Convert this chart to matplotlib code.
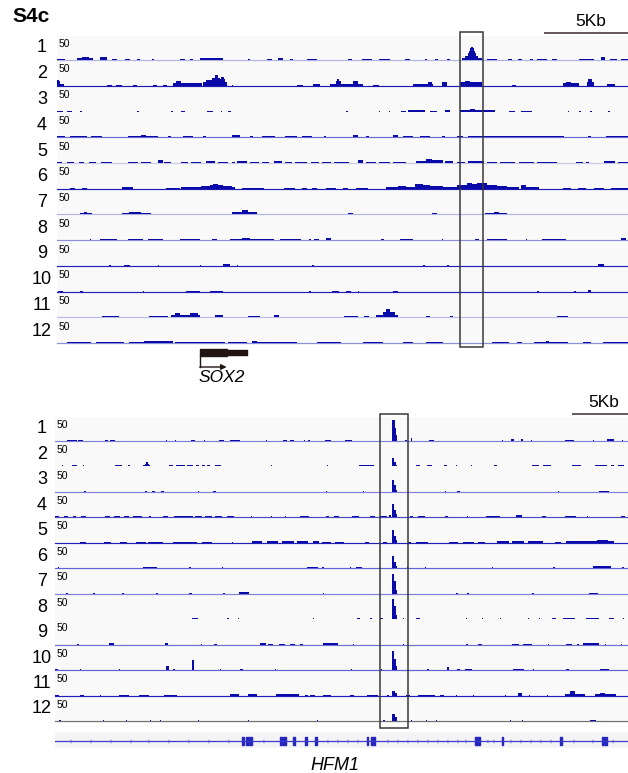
import matplotlib.pyplot as plt
from matplotlib.patches import Rectangle

plt.rcParams['font.family'] = ['Liberation Sans', 'DejaVu Sans']

# ---- data -------------------------------------------------------------
samples = ['1', '2', '3', '4', '5', '6', '7', '8', '9', '10', '11', '12']
track_max = 50

# SOX2 locus, coverage as (start kb, end kb, signal)
sox2_span = 34.0
sox2_cov = [
    [(0.0, 0.45, 2), (1.2, 2.15, 4), (1.5, 1.9, 6), (2.55, 2.95, 7), (3.25, 3.55, 2), (4.05, 4.35, 2),
     (4.75, 4.95, 2), (5.65, 5.75, 2), (7.3, 7.6, 2), (7.9, 8.1, 2), (8.5, 9.9, 4), (9.0, 9.5, 5),
     (11.4, 11.5, 2), (12.5, 12.8, 2), (13.15, 13.45, 4), (13.85, 14.05, 2), (14.9, 15.5, 3),
     (17.3, 17.55, 2), (18.15, 18.75, 2), (19.2, 19.8, 3), (20.7, 21.0, 2), (21.9, 22.05, 2),
     (22.5, 22.7, 2), (23.2, 23.4, 2), (24.1, 25.3, 5), (24.3, 25.05, 9), (24.45, 24.95, 14),
     (24.55, 24.9, 19), (24.62, 24.82, 24), (24.68, 24.78, 28), (25.6, 26.2, 2), (26.85, 27.1, 2),
     (27.45, 27.7, 2), (28.15, 28.35, 2), (28.6, 29.2, 2), (29.5, 29.8, 2), (31.1, 32.0, 3),
     (32.4, 32.65, 6), (32.9, 33.35, 2), (33.6, 34.0, 2)],
    [(0.0, 0.1, 13), (0.0, 0.2, 9), (0.0, 0.4, 4), (3.0, 3.25, 2), (3.5, 3.85, 2), (4.5, 4.75, 2),
     (5.7, 5.95, 2), (6.3, 6.55, 2), (6.9, 7.6, 6), (7.1, 7.4, 9), (7.6, 8.65, 5), (8.7, 10.1, 8),
     (8.9, 9.3, 12), (9.2, 9.7, 16), (9.4, 9.6, 22), (9.6, 10.0, 14), (9.75, 9.95, 19),
     (10.4, 10.5, 2), (14.3, 14.65, 2), (15.25, 15.65, 3), (16.25, 18.2, 4), (16.6, 16.9, 10),
     (16.7, 16.8, 14), (17.6, 17.9, 10), (18.8, 19.2, 2), (21.2, 22.4, 4), (22.1, 22.35, 7),
     (22.95, 23.25, 7), (24.0, 25.3, 7), (24.3, 24.6, 10), (27.1, 27.35, 2), (30.1, 31.1, 5),
     (30.3, 30.6, 7), (31.55, 31.95, 8), (31.6, 31.85, 14), (32.75, 33.2, 3)],
    [(0.0, 0.35, 2), (0.6, 0.9, 2), (1.37, 1.5, 2), (4.76, 4.9, 2), (6.8, 6.9, 2), (7.4, 7.6, 2),
     (8.95, 9.3, 2), (9.75, 9.85, 2), (10.2, 10.35, 2), (17.2, 17.3, 2), (19.15, 19.25, 2),
     (19.75, 19.85, 2), (20.5, 20.8, 2), (20.9, 21.8, 3), (21.5, 21.9, 4), (22.2, 22.6, 2),
     (23.1, 23.4, 4), (24.0, 26.1, 3), (24.6, 24.9, 6), (26.9, 27.3, 2), (27.6, 28.3, 2),
     (30.4, 30.5, 2), (31.1, 31.2, 2), (31.75, 31.85, 2), (32.8, 32.9, 2)],
    [(0.0, 0.5, 2), (0.8, 1.8, 2), (2.0, 2.7, 2), (4.2, 6.0, 3), (5.0, 5.3, 4), (6.6, 6.8, 2),
     (7.5, 8.1, 2), (8.7, 8.9, 2), (10.4, 10.9, 4), (11.5, 11.7, 2), (12.2, 13.0, 2), (13.6, 14.3, 2),
     (14.6, 15.2, 2), (15.9, 16.0, 2), (17.6, 17.9, 4), (18.4, 18.6, 2), (20.0, 20.3, 4),
     (20.6, 21.2, 2), (21.6, 22.2, 2), (22.9, 23.1, 2), (23.8, 24.2, 2), (24.5, 25.8, 3),
     (25.8, 30.2, 3), (31.6, 31.8, 2), (32.7, 34.0, 2)],
    [(0.0, 0.3, 2), (0.6, 1.0, 2), (1.3, 1.6, 2), (1.9, 2.3, 2), (2.6, 3.3, 2), (4.2, 4.8, 3),
     (5.0, 5.6, 2), (6.0, 6.3, 6), (6.4, 6.8, 2), (7.4, 7.8, 2), (8.0, 8.6, 3), (8.9, 9.4, 5),
     (9.6, 10.2, 3), (10.4, 10.6, 2), (10.7, 11.3, 5), (11.5, 12.0, 3), (12.2, 12.6, 2),
     (12.9, 13.4, 5), (13.6, 14.0, 3), (14.2, 14.9, 2), (15.1, 15.6, 3), (15.8, 16.3, 2),
     (16.5, 17.4, 3), (17.9, 18.2, 6), (18.4, 19.0, 3), (19.2, 19.8, 2), (20.0, 20.8, 3),
     (21.4, 22.0, 5), (22.0, 22.3, 9), (22.3, 23.0, 6), (23.1, 23.6, 4), (23.8, 24.3, 3),
     (24.5, 25.4, 4), (25.6, 26.2, 2), (26.4, 27.3, 3), (27.5, 28.4, 2), (28.6, 29.8, 3),
     (30.9, 31.3, 2), (31.5, 31.7, 2), (32.6, 33.2, 4), (33.4, 34.0, 3)],
    [(0.8, 1.1, 2), (1.5, 1.8, 2), (3.9, 4.5, 4), (6.5, 7.3, 2), (7.4, 8.2, 3), (8.2, 8.6, 4),
     (8.6, 9.1, 5), (9.1, 9.3, 7), (9.3, 9.6, 10), (9.6, 9.9, 7), (9.9, 10.4, 5), (10.4, 10.6, 3),
     (11.0, 12.3, 2), (13.5, 14.2, 2), (14.6, 14.9, 2), (15.2, 15.5, 2), (16.0, 16.6, 2),
     (17.0, 17.3, 2), (17.8, 18.5, 2), (19.6, 20.3, 3), (20.3, 20.8, 6), (20.8, 21.3, 4),
     (21.3, 21.8, 9), (21.8, 22.2, 8), (22.2, 23.0, 5), (23.0, 23.8, 4), (23.8, 24.4, 7),
     (24.4, 24.7, 13), (24.7, 25.0, 10), (25.0, 25.3, 13), (25.3, 25.6, 11), (25.6, 26.2, 8),
     (26.2, 26.8, 5), (26.8, 27.5, 3), (27.6, 27.9, 7), (27.9, 28.7, 3), (30.1, 30.6, 2),
     (31.0, 31.5, 2), (32.0, 32.6, 2), (33.0, 34.0, 2)],
    [(0.0, 0.9, 2), (1.37, 2.1, 4), (1.6, 1.8, 5), (2.6, 3.3, 2), (3.9, 5.6, 4), (4.3, 5.0, 5),
     (6.1, 6.6, 2), (9.5, 9.6, 2), (10.4, 11.9, 6), (11.0, 11.4, 9), (12.3, 12.6, 2), (13.0, 13.5, 2),
     (14.0, 14.3, 2), (14.8, 15.9, 2), (17.3, 17.6, 4), (18.5, 19.5, 2), (20.4, 21.0, 2),
     (22.3, 22.6, 4), (24.6, 25.3, 2), (25.5, 26.8, 3), (26.0, 26.3, 5), (28.9, 29.6, 2),
     (30.2, 30.9, 2), (31.4, 32.0, 2), (32.4, 32.7, 2)],
    [(1.95, 2.05, 2), (2.55, 3.6, 2), (4.2, 5.1, 2), (5.4, 6.3, 2), (7.3, 8.5, 2), (9.2, 9.5, 2),
     (10.3, 12.9, 3), (11.0, 11.5, 4), (13.3, 14.5, 2), (15.0, 15.1, 2), (15.3, 15.6, 2),
     (16.0, 16.3, 4), (19.3, 19.5, 2), (20.4, 21.2, 2), (22.9, 23.0, 2), (24.9, 25.1, 2),
     (25.6, 26.8, 3), (27.9, 28.0, 2), (28.9, 30.3, 2), (33.6, 33.9, 4)],
    [(3.1, 3.2, 2), (4.0, 4.35, 2), (6.0, 6.1, 2), (8.5, 8.6, 2), (9.9, 10.3, 4), (10.7, 10.8, 2),
     (15.2, 15.3, 2), (21.8, 21.9, 2), (23.25, 23.35, 2), (32.2, 32.6, 4)],
    [(0.05, 0.35, 2), (1.35, 1.55, 2), (5.1, 5.2, 2), (7.7, 8.5, 2), (9.1, 9.9, 2), (15.0, 15.1, 2),
     (16.4, 16.8, 2), (17.2, 17.5, 2), (17.9, 18.0, 2), (20.0, 20.3, 2), (28.6, 28.7, 2),
     (30.8, 30.9, 2), (31.6, 31.8, 4)],
    [(0.5, 0.65, 2), (2.7, 3.7, 3), (5.5, 6.6, 4), (6.8, 8.5, 5), (7.0, 7.3, 9), (7.9, 8.4, 9),
     (9.4, 9.9, 5), (10.8, 11.0, 2), (11.4, 12.1, 4), (12.9, 13.2, 5), (14.0, 14.4, 2),
     (14.5, 14.6, 2), (15.7, 15.9, 2), (16.4, 16.5, 2), (17.1, 17.9, 4), (18.3, 18.6, 4),
     (19.0, 20.3, 6), (19.4, 20.1, 11), (19.6, 19.8, 17), (20.7, 20.9, 2), (22.0, 22.2, 4),
     (22.6, 23.2, 2), (23.4, 23.6, 4), (25.8, 26.0, 2), (28.8, 29.0, 2), (29.8, 30.4, 4),
     (32.4, 32.7, 2), (33.1, 33.5, 2)],
    [(0.6, 2.0, 2), (2.3, 4.0, 2), (4.3, 5.2, 3), (5.2, 6.9, 4), (5.5, 6.2, 5), (7.0, 10.0, 2),
     (10.2, 11.3, 2), (11.6, 11.9, 5), (11.9, 14.3, 2), (15.5, 16.9, 2), (18.2, 19.4, 2),
     (20.6, 21.2, 2), (22.0, 23.0, 2), (25.9, 26.9, 2), (27.4, 27.7, 2), (28.4, 30.4, 3),
     (29.1, 29.3, 5), (31.3, 31.8, 2), (32.5, 34.0, 2)],
]

# HFM1 locus, coverage as (start kb, end kb, signal)
hfm1_span = 51.16
hfm1_cov = [
    [(1.07, 1.96, 3), (2.05, 2.5, 2), (4.5, 4.7, 2), (4.9, 5.4, 2), (9.9, 10.0, 2), (10.7, 10.8, 2),
     (12.1, 12.5, 3), (13.3, 13.4, 2), (14.6, 15.1, 2), (15.6, 16.5, 2), (18.8, 18.9, 2),
     (20.4, 20.7, 2), (21.0, 21.3, 2), (22.2, 22.3, 2), (22.6, 22.8, 2), (24.1, 24.6, 2),
     (25.9, 26.5, 2), (30.09, 30.36, 44), (30.36, 30.45, 28), (30.45, 30.54, 12), (31.25, 31.45, 2),
     (31.75, 31.9, 6), (33.4, 33.8, 3), (39.9, 40.0, 2), (40.75, 40.95, 4), (41.6, 41.8, 4),
     (42.5, 42.6, 2), (45.5, 46.3, 2), (48.0, 48.1, 2), (49.3, 49.9, 4), (50.6, 50.7, 2)],
    [(0.6, 0.7, 2), (1.5, 2.0, 4), (2.5, 2.6, 2), (5.4, 6.0, 4), (6.5, 6.7, 2), (7.9, 8.5, 3),
     (8.0, 8.4, 6), (8.1, 8.3, 10), (10.2, 10.5, 2), (10.8, 11.6, 3), (11.8, 12.3, 2),
     (12.6, 12.9, 3), (13.1, 13.4, 2), (13.6, 13.8, 2), (14.3, 14.8, 3), (19.3, 19.4, 2),
     (24.3, 24.4, 2), (27.1, 28.5, 2), (30.09, 30.3, 18), (30.3, 30.45, 10), (30.45, 30.54, 4),
     (32.2, 32.6, 2), (33.2, 33.7, 3), (34.7, 35.0, 2), (35.8, 35.9, 2), (37.1, 37.2, 2),
     (39.2, 39.5, 2), (42.6, 43.2, 2), (43.6, 44.3, 2), (46.2, 47.0, 2), (48.2, 49.3, 3),
     (49.6, 49.9, 4), (50.3, 50.8, 4)],
    [(2.6, 2.8, 2), (8.0, 8.2, 2), (8.7, 8.9, 2), (9.5, 9.7, 2), (12.8, 12.9, 2), (14.1, 14.4, 2),
     (24.2, 24.3, 2), (27.5, 27.6, 2), (30.09, 30.3, 25), (30.3, 30.45, 14), (30.45, 30.54, 5),
     (34.8, 34.9, 2), (35.9, 36.2, 2), (44.9, 45.0, 2), (48.6, 49.5, 2)],
    [(0.0, 0.4, 2), (0.8, 1.2, 2), (1.6, 1.9, 2), (2.3, 2.8, 2), (4.5, 4.9, 2), (5.3, 5.8, 2),
     (6.2, 6.6, 2), (7.0, 7.8, 2), (8.4, 8.6, 2), (9.6, 10.1, 3), (10.6, 12.3, 2), (12.5, 13.1, 2),
     (13.4, 14.0, 3), (14.3, 14.9, 2), (15.4, 16.0, 2), (17.5, 17.6, 2), (19.3, 19.4, 2),
     (20.5, 20.6, 2), (21.9, 22.7, 2), (24.2, 24.5, 2), (24.9, 25.4, 2), (26.5, 27.1, 2),
     (28.1, 28.6, 2), (29.0, 29.6, 2), (29.8, 30.0, 4), (30.09, 30.3, 28), (30.3, 30.45, 16),
     (30.45, 30.54, 6), (31.7, 32.0, 3), (32.4, 33.0, 2), (34.8, 35.1, 2), (36.8, 36.9, 2),
     (38.5, 39.7, 3), (41.2, 41.7, 4), (43.5, 43.8, 2), (45.5, 46.5, 2), (47.5, 47.6, 2),
     (50.5, 50.9, 3)],
    [(2.2, 2.8, 2), (4.4, 5.0, 2), (5.8, 6.4, 2), (7.2, 8.1, 2), (8.3, 9.6, 2), (10.5, 12.7, 2),
     (13.1, 14.0, 2), (15.8, 15.9, 2), (17.6, 18.5, 3), (18.9, 19.9, 3), (20.3, 21.3, 3),
     (21.6, 22.6, 3), (23.0, 23.6, 3), (23.8, 24.6, 2), (25.0, 25.8, 2), (27.7, 28.0, 2),
     (29.3, 29.6, 2), (30.09, 30.3, 27), (30.3, 30.45, 15), (30.45, 30.54, 6), (31.5, 31.8, 2),
     (32.2, 33.3, 2), (35.2, 36.0, 2), (36.4, 37.4, 2), (37.8, 38.4, 2), (39.5, 40.5, 3),
     (40.8, 41.9, 3), (42.2, 43.6, 3), (44.6, 45.2, 2), (45.6, 49.9, 3), (48.4, 49.4, 6)],
    [(0.27, 0.4, 2), (7.9, 9.1, 2), (12.0, 12.1, 2), (14.9, 15.0, 2), (22.5, 23.5, 2), (23.8, 24.0, 2),
     (26.3, 26.4, 2), (26.9, 27.4, 2), (30.09, 30.3, 25), (30.3, 30.45, 14), (30.45, 30.54, 5),
     (31.4, 31.5, 2), (33.0, 33.1, 2), (39.0, 39.1, 2), (44.5, 44.6, 2), (48.0, 49.6, 4),
     (50.6, 50.8, 2)],
    [(1.0, 1.2, 2), (3.4, 3.6, 2), (6.0, 6.2, 2), (9.0, 9.2, 2), (12.0, 12.2, 2), (15.0, 15.2, 2),
     (16.4, 17.3, 3), (23.9, 24.0, 2), (30.09, 30.3, 42), (30.3, 30.45, 26), (30.45, 30.54, 8),
     (35.8, 36.0, 2), (36.8, 37.0, 2), (42.6, 42.8, 2), (47.7, 48.5, 2)],
    [(12.2, 12.8, 2), (15.4, 15.5, 2), (16.3, 16.4, 2), (23.0, 23.1, 2), (27.0, 27.2, 2),
     (28.1, 28.3, 2), (29.0, 29.3, 2), (30.09, 30.3, 42), (30.3, 30.45, 28), (30.45, 30.54, 8),
     (31.1, 31.2, 2), (32.2, 32.6, 2), (36.7, 36.8, 2), (38.1, 38.2, 2), (39.7, 39.8, 2),
     (42.2, 42.3, 2), (43.2, 43.3, 2), (44.4, 44.7, 2), (45.4, 46.4, 2), (47.4, 48.6, 2),
     (49.5, 49.9, 2), (50.7, 50.8, 2)],
    [(2.0, 2.1, 2), (4.8, 5.3, 3), (9.8, 10.1, 3), (13.0, 13.1, 2), (14.2, 14.5, 2), (18.3, 18.8, 3),
     (19.0, 19.5, 2), (20.0, 20.5, 2), (21.0, 21.4, 2), (21.9, 22.1, 2), (23.9, 25.3, 3),
     (26.6, 26.7, 2), (31.1, 31.2, 2), (36.7, 36.9, 2), (37.8, 38.1, 2), (40.8, 41.4, 2),
     (41.8, 42.6, 2), (44.0, 44.1, 2), (45.6, 46.2, 2), (46.6, 46.8, 2), (47.1, 48.6, 4),
     (49.1, 49.2, 2), (50.5, 50.6, 2)],
    [(0.0, 0.3, 2), (2.2, 2.3, 2), (5.7, 5.8, 2), (9.9, 10.2, 9), (10.5, 10.7, 2), (12.2, 12.4, 20),
     (14.7, 14.8, 2), (16.5, 16.8, 2), (19.6, 19.7, 2), (26.4, 26.5, 2), (29.1, 29.2, 2),
     (30.09, 30.3, 40), (30.3, 30.45, 24), (30.45, 30.54, 8), (33.2, 33.4, 2), (35.0, 35.2, 6),
     (35.9, 36.2, 2), (36.6, 37.2, 2), (40.9, 41.9, 3), (42.7, 42.8, 2), (45.6, 45.9, 2),
     (48.7, 49.5, 2)],
    [(0.0, 0.4, 2), (2.2, 2.6, 2), (4.0, 4.1, 2), (5.7, 6.6, 2), (7.5, 8.4, 2), (9.7, 10.9, 2),
     (15.6, 16.4, 3), (17.2, 18.0, 3), (19.7, 21.8, 3), (22.3, 22.6, 2), (22.8, 23.2, 2),
     (23.9, 24.6, 2), (26.3, 26.7, 2), (27.9, 28.8, 2), (29.6, 29.8, 2), (30.1, 30.4, 10),
     (30.4, 30.5, 5), (31.3, 31.7, 2), (32.4, 33.9, 2), (34.4, 34.7, 2), (35.8, 35.9, 2),
     (37.3, 37.4, 2), (40.2, 40.3, 2), (41.3, 41.7, 6), (42.3, 42.4, 2), (43.9, 44.0, 2),
     (45.5, 47.3, 4), (46.0, 46.4, 10), (48.2, 50.1, 4), (48.7, 49.1, 6)],
    [(0.4, 0.5, 2), (4.3, 4.4, 2), (6.3, 6.4, 2), (8.5, 8.6, 2), (9.4, 9.5, 2), (12.8, 12.9, 2),
     (17.2, 17.3, 2), (23.4, 23.5, 2), (29.3, 29.5, 2), (30.1, 30.35, 14), (30.35, 30.5, 8),
     (31.8, 31.9, 2), (33.1, 33.2, 2), (34.0, 34.1, 2), (40.6, 40.7, 2), (41.7, 41.8, 2),
     (47.8, 48.3, 3)],
]

# highlighted regions (kb)
sox2_box = (24.0, 25.36)
hfm1_box = (29.02, 31.54)
scale_kb = 5

# gene models (kb)
sox2_cds = (8.5, 10.1)
sox2_utr = (10.1, 11.3)
hfm1_exons = [(16.67, 16.9), (17.05, 17.26), (17.32, 17.62), (20.09, 20.24), (20.39, 20.63),
              (21.28, 21.43), (22.32, 22.47), (23.21, 23.37), (27.83, 27.98), (28.19, 28.57),
              (37.5, 37.95), (39.88, 40.03), (45.09, 45.24), (48.81, 49.02), (49.11, 49.26)]
hfm1_strand_marks = [1.34, 3.13, 4.91, 6.7, 8.3, 10.09, 11.88, 13.66, 15.45, 18.57, 24.26, 25.15,
                     26.04, 26.94, 29.61, 30.51, 31.4, 32.29, 33.18, 34.08, 34.97, 35.86, 36.61,
                     38.54, 39.14, 40.63, 41.52, 42.41, 43.3, 44.2, 46.28, 47.92, 49.71]

# ---- styling ----------------------------------------------------------
SIGNAL = '#0a0aa8'
BG = '#f9f9f9'
sox2_baselines = ['#b0b4e4', '#1c1cb4', None, '#6a6ad6', '#c8cae8', '#1c1cb4',
                  '#b0b4e4', '#8c8cdc', '#2020b8', '#2020b8', '#b8bce8', '#8c90d8']
hfm1_baselines = ['#8080d8', None, '#8080d8', '#4848c8', '#2020b8', '#6060d0',
                  '#8080d8', None, '#7070d0', '#6060d0', '#2020b8', '#707070']

W, H = 628, 773
TRACK_H = 24
fig = plt.figure(figsize=(W / 100, H / 100), dpi=100)


def px_axes(x0, y0, x1, y1, xmax, zorder):
    ax = fig.add_axes([x0 / W, 1 - y1 / H, (x1 - x0) / W, (y1 - y0) / H])
    ax.set_xlim(0, xmax)
    ax.set_ylim(y1, y0)
    ax.axis('off')
    ax.set_zorder(zorder)
    return ax


def draw_panel(cov, span, x0, base0, step, baselines, box, bar_y, box_y):
    last = base0 + step * (len(cov) - 1)
    bg = px_axes(x0, base0 - 24, W, last + 2, span, 0)
    bg.add_patch(Rectangle((0, base0 - 24), span, last + 2 - (base0 - 24), color=BG, lw=0))

    for i, segs in enumerate(cov):
        base = base0 + i * step
        ax = fig.add_axes([x0 / W, 1 - base / H, (W - x0) / W, TRACK_H / H])
        ax.set_zorder(1)
        ax.set_xlim(0, span)
        ax.set_ylim(0, track_max)
        ax.axis('off')
        if baselines[i]:
            ax.axhline(0, color=baselines[i], lw=0.85, clip_on=False, zorder=1)
        ax.bar([s for s, e, v in segs], [v for s, e, v in segs],
               width=[e - s for s, e, v in segs], align='edge',
               color=SIGNAL, linewidth=0, zorder=2)
        ax.text(0.002, 0.68, str(track_max), transform=ax.transAxes,
                fontsize=7.5, ha='left', va='center')
        fig.text(42 / W, 1 - (base - 12) / H, samples[i], fontsize=13,
                 ha='center', va='center')

    ov = px_axes(x0, bar_y - 25, W, box_y[1] + 2, span, 2)
    ov.add_patch(Rectangle((box[0], box_y[0]), box[1] - box[0], box_y[1] - box_y[0],
                           fill=False, ec='#383838', lw=1.1))
    ov.plot([span - scale_kb, span], [bar_y, bar_y], color='#4a3c3c', lw=1.2,
            solid_capstyle='butt', clip_on=False)
    ov.text(span - scale_kb / 2 + 0.3, bar_y - 11.5, f'{scale_kb}Kb', fontsize=12.5,
            ha='center', va='center')


fig.text(12 / W, 1 - 17 / H, 'S4c', fontsize=15, fontweight='bold', ha='left', va='center')

draw_panel(sox2_cov, sox2_span, 57, 60, 25.75, sox2_baselines, sox2_box, 32.7, (32.3, 346.7))
draw_panel(hfm1_cov, hfm1_span, 55, 441, 25.45, hfm1_baselines, hfm1_box, 414, (414, 727.7))

# SOX2 gene model
g1 = px_axes(57, 345, W, 390, sox2_span, 1)
g1.broken_barh([(sox2_cds[0], sox2_cds[1] - sox2_cds[0])], (349.5, 7), color='#231414')
g1.broken_barh([(sox2_utr[0], sox2_utr[1] - sox2_utr[0])], (350.5, 5), color='#231414')
g1.plot([sox2_cds[0], sox2_cds[0]], [356, 367], color='#231414', lw=1)
g1.annotate('', xy=(sox2_cds[1], 367), xytext=(sox2_cds[0], 367),
            arrowprops=dict(arrowstyle='-|>', color='#231414', lw=1,
                            mutation_scale=8, shrinkA=0, shrinkB=0))
g1.text((sox2_cds[0] + sox2_utr[1]) / 2 - 0.1, 378, 'SOX2', fontsize=12.5, style='italic',
        ha='center', va='center')

# HFM1 gene model
g2 = px_axes(55, 730, W, 775, hfm1_span, 1)
g2.add_patch(Rectangle((0, 732), hfm1_span, 16, color='#f4f4f4', lw=0))
g2.plot([0, hfm1_span], [741, 741], color='#3a3acc', lw=0.9)
g2.broken_barh([(s, e - s) for s, e in hfm1_exons], (737, 8), color='#2626c0')
g2.plot(hfm1_strand_marks, [741] * len(hfm1_strand_marks), ls='none',
        marker=[(0.6, 1), (-0.6, 0), (0.6, -1)], ms=2.5, mfc='none',
        mec='#7070d8', mew=0.5)
g2.text(25.0, 765, 'HFM1', fontsize=13, style='italic', ha='center', va='center')

fig.savefig('out.png', dpi=100)
